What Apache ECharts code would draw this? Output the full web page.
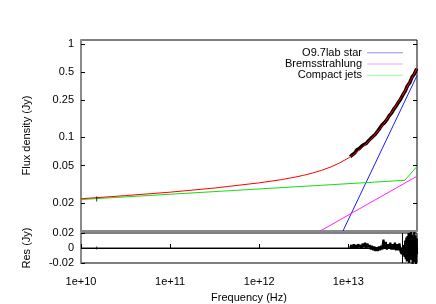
<!DOCTYPE html>
<html><head><meta charset="utf-8">
<script src="https://cdn.jsdelivr.net/npm/echarts@6/dist/echarts.min.js"></script>
<style>html,body{margin:0;padding:0;background:#fff}#c{width:436px;height:304px}</style>
</head><body><div id="c"></div>
<script>
// ---- tick labels ----
const xTicks = [1e10, 1e11, 1e12, 1e13];
const yTicks = [0.02, 0.05, 0.1, 0.25, 0.5, 1];
// ---- model components (Hz, Jy) ----
const modelFreq = [1e10, 3.16e10, 1e11, 3.16e11, 1e12, 1.78e12, 2.51e12, 3.16e12, 3.98e12, 5.01e12, 6.31e12, 7.94e12, 1e13, 1.12e13, 1.26e13, 1.41e13, 1.58e13, 1.78e13, 2.0e13, 2.24e13, 2.51e13, 2.82e13, 3.16e13, 3.55e13, 3.98e13, 4.3e13, 5.01e13, 5.9e13];
const modelFlux = [0.0221, 0.0239, 0.0260, 0.0288, 0.0327, 0.0354, 0.0376, 0.0394, 0.0417, 0.0445, 0.0482, 0.0532, 0.0602, 0.0647, 0.0702, 0.0769, 0.0851, 0.0950, 0.1073, 0.1225, 0.1412, 0.1645, 0.1934, 0.2295, 0.2744, 0.3100, 0.4067, 0.546];
const starFreq = [8.7e12, 5.9e13];
const starFlux = [0.01, 0.458];
const bremFreq = [4.84e12, 5.9e13];
const bremFlux = [0.01, 0.0385];
const jetFreq = [1e10, 4.3e13, 5.9e13];
const jetFlux = [0.0217, 0.0348, 0.0489];
// ---- observed spectrum ----
const obsFreq = [1.05e13, 1.11e13, 1.18e13, 1.25e13, 1.33e13, 1.41e13, 1.50e13, 1.59e13, 1.69e13, 1.79e13, 1.90e13, 2.01e13, 2.14e13, 2.27e13, 2.40e13, 2.55e13, 2.71e13, 2.87e13, 3.05e13, 3.23e13, 3.43e13, 3.64e13, 3.86e13, 4.10e13, 4.35e13, 4.61e13, 4.89e13, 5.19e13, 5.51e13, 5.85e13];
const obsFlux = [0.0620, 0.0653, 0.0680, 0.0739, 0.0763, 0.0808, 0.0840, 0.0863, 0.0924, 0.0977, 0.1028, 0.1082, 0.1172, 0.1266, 0.1364, 0.1440, 0.1550, 0.1697, 0.1817, 0.1995, 0.2151, 0.2367, 0.2564, 0.2857, 0.3129, 0.3568, 0.3843, 0.4409, 0.4759, 0.5440];
const radioFreq = [1.5e10];
const radioFlux = [0.022];
const radioRes = [0];
// ---- residuals (Jy) ----
const resFreq = [1.05e13, 1.08e13, 1.11e13, 1.15e13, 1.18e13, 1.22e13, 1.25e13, 1.29e13, 1.33e13, 1.37e13, 1.41e13, 1.45e13, 1.50e13, 1.54e13, 1.59e13, 1.64e13, 1.69e13, 1.74e13, 1.79e13, 1.84e13, 1.90e13, 1.96e13, 2.01e13, 2.07e13, 2.14e13, 2.20e13, 2.27e13, 2.33e13, 2.40e13, 2.48e13, 2.55e13, 2.63e13, 2.71e13, 2.79e13, 2.87e13, 2.96e13, 3.05e13, 3.14e13, 3.23e13, 3.33e13, 3.43e13, 3.53e13, 3.64e13, 3.75e13, 3.86e13, 3.98e13, 4.10e13, 4.16e13, 4.22e13, 4.28e13, 4.35e13, 4.41e13, 4.48e13, 4.54e13, 4.61e13, 4.68e13, 4.75e13, 4.82e13, 4.89e13, 4.96e13, 5.04e13, 5.11e13, 5.19e13, 5.27e13, 5.35e13, 5.43e13, 5.51e13, 5.59e13, 5.68e13, 5.76e13, 5.85e13, 5.90e13];
const resVal = [0.000, 0.004, -0.001, 0.005, 0.000, 0.004, -0.001, 0.005, 0.001, 0.004, -0.001, 0.006, 0.001, 0.007, 0.000, 0.006, 0.001, 0.004, -0.002, 0.003, -0.003, 0.002, -0.004, 0.001, -0.004, 0.002, -0.003, 0.003, -0.002, 0.011, -0.001, 0.008, -0.002, 0.005, -0.001, 0.007, -0.002, 0.005, -0.002, 0.007, -0.003, 0.005, -0.003, 0.006, -0.005, -0.008, 0.001, -0.010, 0.004, -0.012, 0.010, -0.015, 0.014, -0.018, 0.016, -0.012, 0.020, -0.020, 0.012, -0.016, 0.022, -0.014, 0.018, -0.022, 0.015, -0.019, 0.022, -0.011, 0.017, -0.022, 0.013, -0.008];
const markFreq = 4.0e13;

const zip = (a, b) => a.map((v, i) => [v, b[i]]);
const FONT = 'Liberation Sans';
const gray = '#8a8a8a';
const chart = echarts.init(document.getElementById('c'), null, {renderer: 'canvas'});
const txt = {color: '#000', fontSize: 11, fontFamily: FONT};
const lineS = (name, data, color, xi, yi, w, z) => ({
  name, type: 'line', data, xAxisIndex: xi, yAxisIndex: yi, showSymbol: false, symbol: 'none',
  lineStyle: {color, width: w}, itemStyle: {color}, z: z, clip: true, animation: false
});
chart.setOption({
  animation: false,
  backgroundColor: '#fff',
  textStyle: {fontFamily: FONT},
  grid: [
    {left: 81, top: 40, width: 336, height: 191, show: true, borderColor: '#000', borderWidth: 1},
    {left: 81, top: 233, width: 336, height: 32, show: true, borderColor: '#000', borderWidth: 1}
  ],
  legend: {
    right: 33, top: 47, orient: 'vertical', align: 'right', icon: 'rect',
    itemWidth: 36, itemHeight: 1, itemGap: 0, padding: 0,
    textStyle: {color: '#000', fontSize: 11, fontFamily: FONT, lineHeight: 11.3},
    data: [
      {name: 'O9.7lab star', itemStyle: {color: '#8c8cff'}},
      {name: 'Bremsstrahlung', itemStyle: {color: '#ff9cff'}},
      {name: 'Compact jets', itemStyle: {color: '#9cf59c'}}
    ]
  },
  xAxis: [
    {gridIndex: 0, type: 'log', min: 1e10, max: 5.9e13,
     axisLine: {lineStyle: {color: gray, width: 2}}, axisTick: {show: false}, axisLabel: {show: false}, splitLine: {show: false}},
    {gridIndex: 1, type: 'log', min: 1e10, max: 5.9e13,
     axisLine: {lineStyle: {color: gray, width: 2}},
     axisTick: {inside: true, length: 4, lineStyle: {color: '#000'}, customValues: xTicks},
     axisLabel: Object.assign({margin: 13, customValues: xTicks, formatter: v => '1e+' + Math.round(Math.log10(v))}, txt),
     splitLine: {show: false},
     name: 'Frequency (Hz)', nameLocation: 'middle', nameGap: 29, nameTextStyle: txt}
  ],
  yAxis: [
    {gridIndex: 0, type: 'log', min: 0.01, max: 1.1,
     axisLine: {show: true, lineStyle: {color: gray, width: 2}},
     axisTick: {show: true, inside: true, length: 4, lineStyle: {color: '#000'}, customValues: yTicks},
     axisLabel: Object.assign({margin: 7, customValues: yTicks, formatter: v => String(+(+v).toPrecision(2))}, txt),
     splitLine: {show: false},
     name: 'Flux density (Jy)', nameLocation: 'middle', nameGap: 49, nameTextStyle: txt},
    {gridIndex: 0, type: 'log', min: 0.01, max: 1.1, position: 'right',
     axisLine: {show: false},
     axisTick: {show: true, inside: true, length: 4, lineStyle: {color: '#000'}, customValues: yTicks},
     axisLabel: {show: false}, splitLine: {show: false}},
    {gridIndex: 1, type: 'value', min: -0.02, max: 0.02, interval: 0.02,
     axisLine: {show: true, lineStyle: {color: gray, width: 2}},
     axisTick: {show: true, inside: true, length: 4, lineStyle: {color: '#000'}},
     axisLabel: Object.assign({margin: 7, formatter: v => (Math.abs(v) < 1e-9 ? '0' : v.toFixed(2))}, txt),
     splitLine: {show: false},
     name: 'Res (Jy)', nameLocation: 'middle', nameGap: 49, nameTextStyle: txt}
  ],
  series: [
    lineS('data', zip(obsFreq, obsFlux), '#000', 0, 0, 3.5, 2),
    {name: 'radio', type: 'scatter', xAxisIndex: 0, yAxisIndex: 0, data: zip(radioFreq, radioFlux),
     symbol: 'rect', symbolSize: [1, 5], itemStyle: {color: '#000'}, z: 5},
    lineS('O9.7lab star', zip(starFreq, starFlux), '#1a1aff', 0, 0, 1, 3),
    lineS('Bremsstrahlung', zip(bremFreq, bremFlux), '#ff22ff', 0, 0, 1, 3),
    lineS('Compact jets', zip(jetFreq, jetFlux), '#11e011', 0, 0, 1, 3),
    lineS('model', zip(modelFreq, modelFlux), '#ff0000', 0, 0, 1, 4),
    Object.assign(lineS('res', zip(resFreq, resVal), '#000', 1, 2, 2.2, 3), {
      markLine: {silent: true, symbol: 'none', label: {show: false}, animation: false,
        lineStyle: {color: '#000', width: 1, type: 'solid'},
        data: [{yAxis: 0}, {xAxis: markFreq}]}
    }),
    {name: 'radioRes', type: 'scatter', xAxisIndex: 1, yAxisIndex: 2, data: zip(radioFreq, radioRes),
     symbol: 'rect', symbolSize: [1, 3], itemStyle: {color: '#000'}, z: 5}
  ]
});
</script></body></html>
